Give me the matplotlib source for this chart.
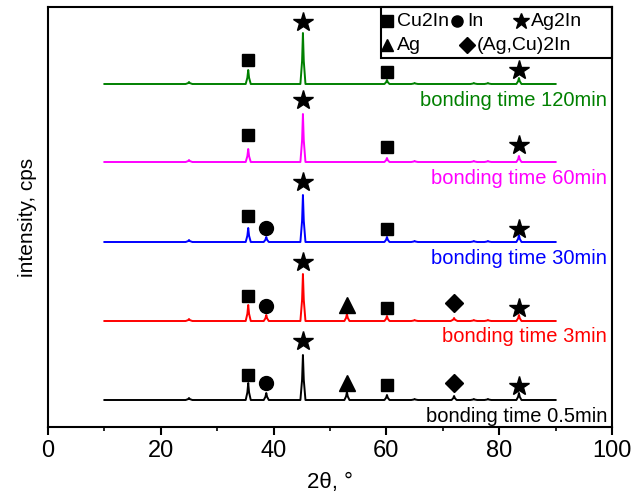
import matplotlib.pyplot as plt
from matplotlib.lines import Line2D
from matplotlib.patches import Rectangle

plt.rcParams['font.family'] = ['Liberation Sans', 'DejaVu Sans']

# samples, bottom to top
labels = ['bonding time 0.5min', 'bonding time 3min', 'bonding time 30min',
          'bonding time 60min', 'bonding time 120min']
colors = ['black', 'red', 'blue', '#ff00ff', 'green']
offsets = [27, 106, 185, 265, 343]

# peak positions (2theta) and heights
peak_pos = [25.0, 35.5, 38.7, 45.2, 53.0, 60.1, 65.0, 72.0, 75.5, 78.0, 83.5]
heights_05 = [2, 17, 7, 45, 8, 5, 1, 4, 1, 1, 7]
heights_3 = [2, 16, 6, 47, 7, 5, 1, 3, 1, 1, 6]
heights_30 = [2, 14, 5, 47, 0, 5, 1, 0, 1, 1, 7]
heights_60 = [2, 13, 0, 48, 0, 4, 1, 0, 1, 1, 6]
heights_120 = [2, 14, 0, 51, 0, 4, 1, 0, 1, 1, 6]
all_heights = [heights_05, heights_3, heights_30, heights_60, heights_120]

# phase markers: 2theta position and height above each baseline
mark_pos = {
    'Cu2In': 35.5, 'In': 38.7, 'Ag2In': 45.2, 'Ag': 53.0,
    'Cu2In_b': 60.1, 'AgCu2In': 72.0, 'Ag2In_b': 83.5,
}
marker_style = {'Cu2In': 's', 'In': 'o', 'Ag2In': '*', 'Ag': '^',
                'Cu2In_b': 's', 'AgCu2In': 'D', 'Ag2In_b': '*'}
marks = [
    {'Cu2In': 25, 'In': 17, 'Ag2In': 59, 'Ag': 17, 'Cu2In_b': 15, 'AgCu2In': 17, 'Ag2In_b': 14},
    {'Cu2In': 25, 'In': 15, 'Ag2In': 59, 'Ag': 16, 'Cu2In_b': 13, 'AgCu2In': 18, 'Ag2In_b': 13},
    {'Cu2In': 26, 'In': 14, 'Ag2In': 60, 'Cu2In_b': 13, 'Ag2In_b': 13},
    {'Cu2In': 27, 'Ag2In': 62, 'Cu2In_b': 15, 'Ag2In_b': 17},
    {'Cu2In': 24, 'Ag2In': 62, 'Cu2In_b': 12, 'Ag2In_b': 14},
]
sizes = {'s': 9, 'o': 10, '*': 15, '^': 11, 'D': 9}

# legend entries: marker, name, x pixel, y pixel
legend_items = [('s', 'Cu2In', 387, 21), ('o', 'In', 457, 21), ('*', 'Ag2In', 521, 21),
                ('^', 'Ag', 387, 45), ('D', '(Ag,Cu)2In', 467, 45)]

W, H = 632, 501
fig = plt.figure(figsize=(W / 100, H / 100), dpi=100)
ax = fig.add_axes([48 / W, (H - 427) / H, 564 / W, 420 / H])

for heights, off, col, lab, mk in zip(all_heights, offsets, colors, labels, marks):
    xs, ys = [10.0], [off]
    for p, h in zip(peak_pos, heights):
        if h == 0:
            continue
        w = 0.45 if h > 3 else 0.6
        xs += [p - w, p - 0.15, p, p + 0.15, p + w]
        ys += [off, off + h * 0.45, off + h, off + h * 0.45, off]
    xs.append(90.0)
    ys.append(off)
    ax.plot(xs, ys, color=col, lw=1.4)
    ax.text(99.1, off - 16, lab, color=col, fontsize=14.5, ha='right', va='center')
    for key, dy in mk.items():
        m = marker_style[key]
        ax.plot(mark_pos[key], off + dy, marker=m, color='black', ms=sizes[m],
                linestyle='none')

ax.set_xlim(0, 100)
ax.set_ylim(0, 420)
ax.set_yticks([])
ax.set_xticks([0, 20, 40, 60, 80, 100])
ax.set_xticks([10, 30, 50, 70, 90], minor=True)
ax.tick_params(axis='x', which='major', direction='out', length=6, width=1.5, labelsize=17)
ax.tick_params(axis='x', which='minor', direction='out', length=3, width=1.2)
for s in ax.spines.values():
    s.set_linewidth(1.5)
ax.set_xlabel('2θ, °', fontsize=16, labelpad=7)
ax.set_ylabel('intensity, cps', fontsize=15, labelpad=8)

# legend box
fig.patches.append(Rectangle((381 / W, (H - 58) / H), 231 / W, 51 / H,
                             transform=fig.transFigure, fill=False, lw=1.5,
                             edgecolor='black'))
for m, name, px, py in legend_items:
    ms = 12 if m == '*' else 8
    fig.add_artist(Line2D([px / W], [(H - py) / H], marker=m, color='black', ms=ms,
                          linestyle='none', transform=fig.transFigure))
    fig.text((px + 10) / W, (H - py) / H, name, fontsize=14, va='center', ha='left')

fig.savefig('out.png', dpi=100)
